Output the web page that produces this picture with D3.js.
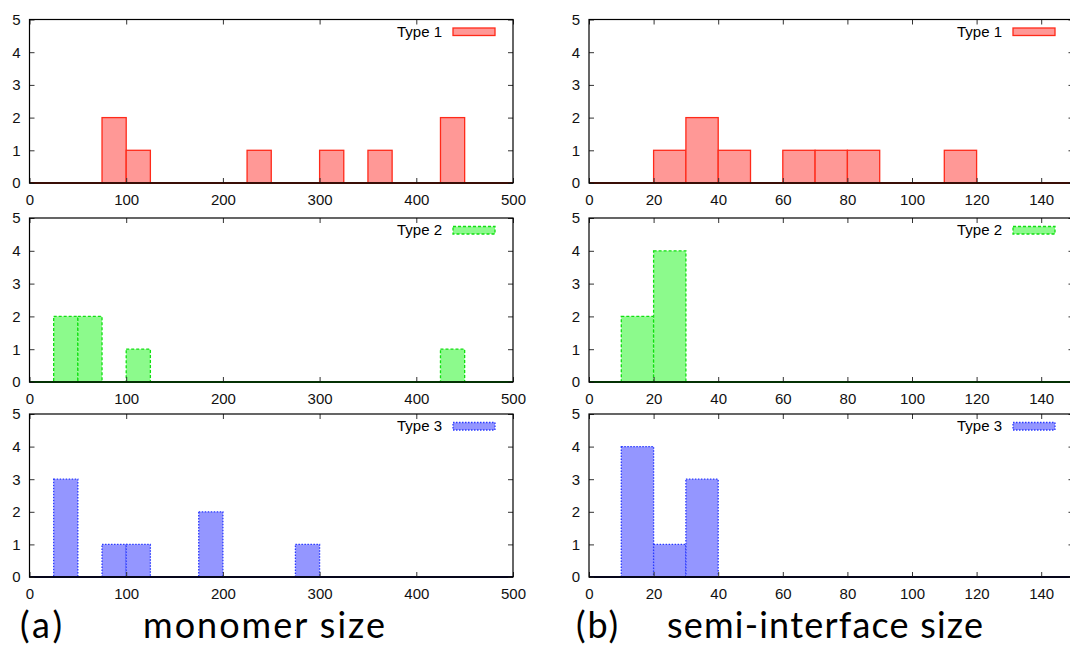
<!DOCTYPE html>
<html>
<head>
<meta charset="utf-8">
<script src="https://cdn.jsdelivr.net/npm/d3@7"></script>
<style>
  body { margin: 0; background: #fff; overflow: hidden; }
  svg { display: block; }
  .big { font-family: Lato, "Open Sans", sans-serif; font-size: 36px; fill: #000; }
</style>
</head>
<body>
<div id="canvas"></div>
<script>
/* global d3 */

// histogram bins: [start, count], bin width per column
var monoBin = 25
var monoType1 = [[75, 2], [100, 1], [225, 1], [300, 1], [350, 1], [425, 2]]
var monoType2 = [[25, 2], [50, 2], [100, 1], [425, 1]]
var monoType3 = [[25, 3], [75, 1], [100, 1], [175, 2], [275, 1]]

var semiBin = 10
var semiType1 = [[20, 1], [30, 2], [40, 1], [60, 1], [70, 1], [80, 1], [110, 1]]
var semiType2 = [[10, 2], [20, 4]]
var semiType3 = [[10, 4], [20, 1], [30, 3]]

var yTicks = [0, 1, 2, 3, 4, 5]
var monoTicks = [0, 100, 200, 300, 400, 500]
var semiTicks = [0, 20, 40, 60, 80, 100, 120, 140]
var typeNames = ['Type 1', 'Type 2', 'Type 3']

var styles = [
  {fill: '#ff9896', stroke: '#ff2a1a', base: '#8f2410', dash: null},
  {fill: '#8cfa8c', stroke: '#10e010', base: '#0a7a0a', dash: '3,2'},
  {fill: '#9496ff', stroke: '#2a3aff', base: '#111144', dash: '1.5,1.5'}
]

var width = 1070, height = 646
var labelFont = '"Liberation Sans", Arial, sans-serif'

var svg = d3.select('#canvas')
  .append('svg')
  .attr('width', width)
  .attr('height', height)

var rows = [
  {top: 19.5, bottom: 183},
  {top: 218, bottom: 382},
  {top: 414, bottom: 577}
]

var columns = [
  {left: 29.5, right: 513, domain: [0, 500], ticks: monoTicks, bin: monoBin,
    data: [monoType1, monoType2, monoType3], legendEnd: 442},
  {left: 589, right: 1073.5, domain: [0, 150], ticks: semiTicks, bin: semiBin,
    data: [semiType1, semiType2, semiType3], legendEnd: 1002}
]

columns.forEach(col => {
  rows.forEach((row, i) => {
    var st = styles[i]
    var x = d3.scaleLinear().domain(col.domain).range([col.left, col.right])
    var y = d3.scaleLinear().domain([0, 5]).range([row.bottom, row.top])
    var g = svg.append('g')

    // bars
    g.append('g')
      .selectAll('rect')
      .data(col.data[i])
      .enter()
      .append('rect')
      .attr('x', d => x(d[0]))
      .attr('y', d => y(d[1]))
      .attr('width', d => x(d[0] + col.bin) - x(d[0]))
      .attr('height', d => y(0) - y(d[1]))
      .style('fill', st.fill)
      .style('stroke', st.stroke)
      .style('stroke-width', 1.3)
      .style('stroke-dasharray', st.dash)

    // zero line of the histogram
    g.append('line')
      .attr('x1', x(col.domain[0])).attr('x2', x(col.domain[1]))
      .attr('y1', y(0)).attr('y2', y(0))
      .style('stroke', st.base)
      .style('stroke-width', 2)

    // axes, gnuplot style: ticks inward, mirrored
    var tickLen = 5
    g.append('g')
      .attr('transform', 'translate(0,' + row.bottom + ')')
      .call(d3.axisBottom(x).tickValues(col.ticks).tickFormat(d3.format('d'))
        .tickSizeInner(-tickLen).tickSizeOuter(0).tickPadding(tickLen + 6))
      .call(a => a.select('.domain').remove())
    g.append('g')
      .attr('transform', 'translate(0,' + row.top + ')')
      .call(d3.axisTop(x).tickValues(col.ticks).tickSizeInner(-tickLen).tickSizeOuter(0).tickFormat(''))
      .call(a => a.select('.domain').remove())
    g.append('g')
      .attr('transform', 'translate(' + col.left + ',0)')
      .call(d3.axisLeft(y).tickValues(yTicks).tickFormat(d3.format('d'))
        .tickSizeInner(-tickLen).tickSizeOuter(0).tickPadding(tickLen + 4))
      .call(a => a.select('.domain').remove())
    g.append('g')
      .attr('transform', 'translate(' + col.right + ',0)')
      .call(d3.axisRight(y).tickValues(yTicks).tickSizeInner(-tickLen).tickSizeOuter(0).tickFormat(''))
      .call(a => a.select('.domain').remove())
    g.selectAll('.tick line').style('stroke', '#333')
    g.selectAll('.tick text')
      .style('font-family', labelFont)
      .style('font-size', '15px')
      .style('fill', '#111')

    // frame
    g.append('rect')
      .attr('x', col.left).attr('y', row.top)
      .attr('width', col.right - col.left).attr('height', row.bottom - row.top)
      .style('fill', 'none')
      .style('stroke', '#000')
      .style('stroke-width', 1.2)

    // legend
    g.append('text')
      .attr('x', col.legendEnd)
      .attr('y', row.top + 17)
      .attr('text-anchor', 'end')
      .style('font-family', labelFont)
      .style('font-size', '15px')
      .text(typeNames[i])
    g.append('rect')
      .attr('x', col.legendEnd + 11)
      .attr('y', row.top + 8.5)
      .attr('width', 42)
      .attr('height', 7.5)
      .style('fill', st.fill)
      .style('stroke', st.stroke)
      .style('stroke-width', 1.3)
      .style('stroke-dasharray', st.dash)
  })
})

// panel captions
var captions = [
  {x: 20, text: '(a)', len: 42},
  {x: 143, text: 'monomer size', len: 242},
  {x: 576, text: '(b)', len: 42},
  {x: 667, text: 'semi-interface size', len: 316}
]
svg.selectAll('text.big')
  .data(captions)
  .enter()
  .append('text')
  .attr('class', 'big')
  .attr('x', d => d.x)
  .attr('y', 638)
  .attr('textLength', d => d.len)
  .attr('lengthAdjust', 'spacing')
  .text(d => d.text)
</script>
</body>
</html>
